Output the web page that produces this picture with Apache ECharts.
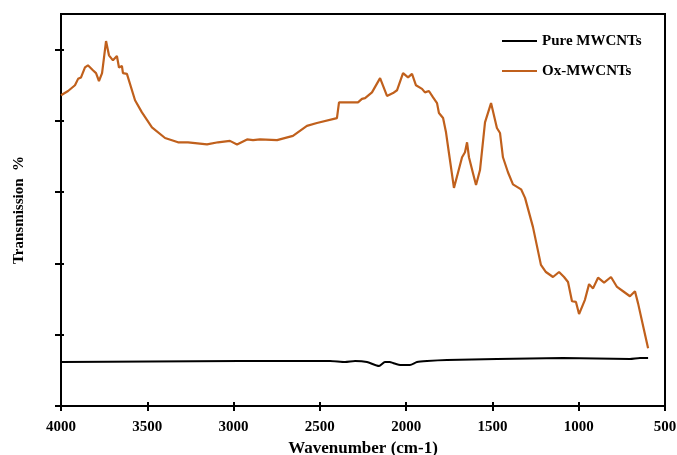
<!DOCTYPE html>
<html>
<head>
<meta charset="utf-8">
<script src="https://cdn.jsdelivr.net/npm/echarts@6/dist/echarts.min.js"></script>
<style>
html,body{margin:0;padding:0;background:#fff;}
#chart{width:677px;height:455px;}
</style>
</head>
<body>
<div id="chart"></div>
<script>
const xTicks = [4000, 3500, 3000, 2500, 2000, 1500, 1000, 500];
const yTicks = [0, 10, 20, 30, 40, 50];

const pureWavenumber = [4000, 3484, 2963, 2441, 2354, 2296, 2227, 2157, 2123, 2094, 2076, 2030, 1978, 1937, 1879, 1763, 1474, 1091, 703, 645, 598];
const pureTransmission = [6.17, 6.24, 6.31, 6.31, 6.17, 6.31, 6.17, 5.61, 6.17, 6.17, 6.03, 5.75, 5.75, 6.17, 6.31, 6.45, 6.59, 6.73, 6.59, 6.73, 6.73];

const oxWavenumber = [4000, 3959, 3919, 3901, 3884, 3861, 3844, 3815, 3797, 3780, 3762, 3739, 3722, 3699, 3676, 3664, 3647, 3641, 3618, 3571, 3531, 3473, 3397, 3322, 3264, 3154, 3090, 3021, 2980, 2922, 2887, 2847, 2748, 2656, 2575, 2517, 2401, 2389, 2325, 2279, 2256, 2238, 2198, 2151, 2111, 2076, 2053, 2018, 1989, 1966, 1943, 1908, 1891, 1868, 1844, 1821, 1810, 1786, 1769, 1752, 1723, 1700, 1676, 1659, 1647, 1636, 1613, 1595, 1572, 1543, 1508, 1474, 1456, 1439, 1410, 1381, 1334, 1311, 1265, 1219, 1190, 1149, 1114, 1085, 1062, 1039, 1016, 998, 964, 940, 917, 888, 853, 813, 778, 743, 703, 674, 656, 622, 598];
const oxTransmission = [43.6, 44.2, 45.0, 45.9, 46.1, 47.5, 47.8, 47.1, 46.7, 45.6, 46.7, 51.2, 49.2, 48.5, 49.1, 47.5, 47.7, 46.7, 46.6, 42.9, 41.2, 39.1, 37.6, 37.0, 37.0, 36.7, 37.0, 37.2, 36.7, 37.4, 37.3, 37.4, 37.3, 37.9, 39.3, 39.7, 40.4, 42.6, 42.6, 42.6, 43.1, 43.2, 44.0, 46.0, 43.5, 43.9, 44.3, 46.7, 46.1, 46.6, 45.0, 44.5, 44.0, 44.2, 43.3, 42.5, 41.1, 40.4, 38.4, 35.5, 30.6, 32.7, 34.9, 35.6, 37.0, 34.9, 32.7, 31.0, 33.1, 39.8, 42.5, 39.0, 38.3, 34.9, 32.8, 31.1, 30.4, 29.2, 25.1, 19.8, 18.8, 18.1, 18.8, 18.1, 17.4, 14.7, 14.6, 12.9, 14.9, 17.1, 16.5, 18.0, 17.3, 18.1, 16.7, 16.1, 15.4, 16.1, 14.4, 10.7, 8.1];

const seriesNames = ['Pure MWCNTs', 'Ox-MWCNTs'];

const pairs = (xs, ys) => xs.map((x, i) => [x, ys[i]]);
const font = "'Liberation Serif', 'Times New Roman', serif";

const chart = echarts.init(document.getElementById('chart'), null, {renderer: 'canvas'});
chart.setOption({
  animation: false,
  backgroundColor: '#fff',
  grid: {left: 61, right: 12, top: 14, bottom: 49, containLabel: false, outerBoundsMode: 'none',
         show: true, borderColor: '#000', borderWidth: 2, backgroundColor: 'transparent'},
  legend: {
    orient: 'vertical', left: 502, top: 33, padding: 0, itemGap: 14,
    itemWidth: 35, itemHeight: 2, icon: 'rect',
    textStyle: {fontFamily: font, fontWeight: 'bold', fontSize: 15, color: '#000', lineHeight: 16},
    data: seriesNames
  },
  xAxis: {
    type: 'value', inverse: true, min: 500, max: 4000, interval: 500,
    offset: -4,
    axisLine: {show: false},
    axisTick: {show: true, inside: false, length: 9, lineStyle: {color: '#000', width: 2}, customValues: xTicks},
    axisLabel: {margin: 18, fontFamily: font, fontWeight: 'bold', fontSize: 15, color: '#000',
                customValues: xTicks, formatter: v => String(v)},
    splitLine: {show: false},
    name: 'Wavenumber (cm-1)', nameLocation: 'middle', nameGap: 38,
    nameTextStyle: {fontFamily: font, fontWeight: 'bold', fontSize: 17, color: '#000'}
  },
  yAxis: {
    type: 'value', min: 0, max: 55,
    offset: -3,
    axisLine: {show: false},
    axisTick: {show: true, inside: false, length: 9, lineStyle: {color: '#000', width: 2}, customValues: yTicks},
    axisLabel: {show: false},
    splitLine: {show: false},
    name: 'Transmission  %', nameLocation: 'middle', nameGap: 37, nameRotate: 90,
    nameTextStyle: {fontFamily: font, fontWeight: 'bold', fontSize: 15, color: '#000'}
  },
  series: [
    {name: seriesNames[0], type: 'line', data: pairs(pureWavenumber, pureTransmission), showSymbol: false, symbol: 'none', smooth: 0.2,
     lineStyle: {color: '#000', width: 2}, itemStyle: {color: '#000'}},
    {name: seriesNames[1], type: 'line', data: pairs(oxWavenumber, oxTransmission), showSymbol: false, symbol: 'none',
     lineStyle: {color: '#c0601c', width: 2.2}, itemStyle: {color: '#c0601c'}}
  ]
});
</script>
</body>
</html>
